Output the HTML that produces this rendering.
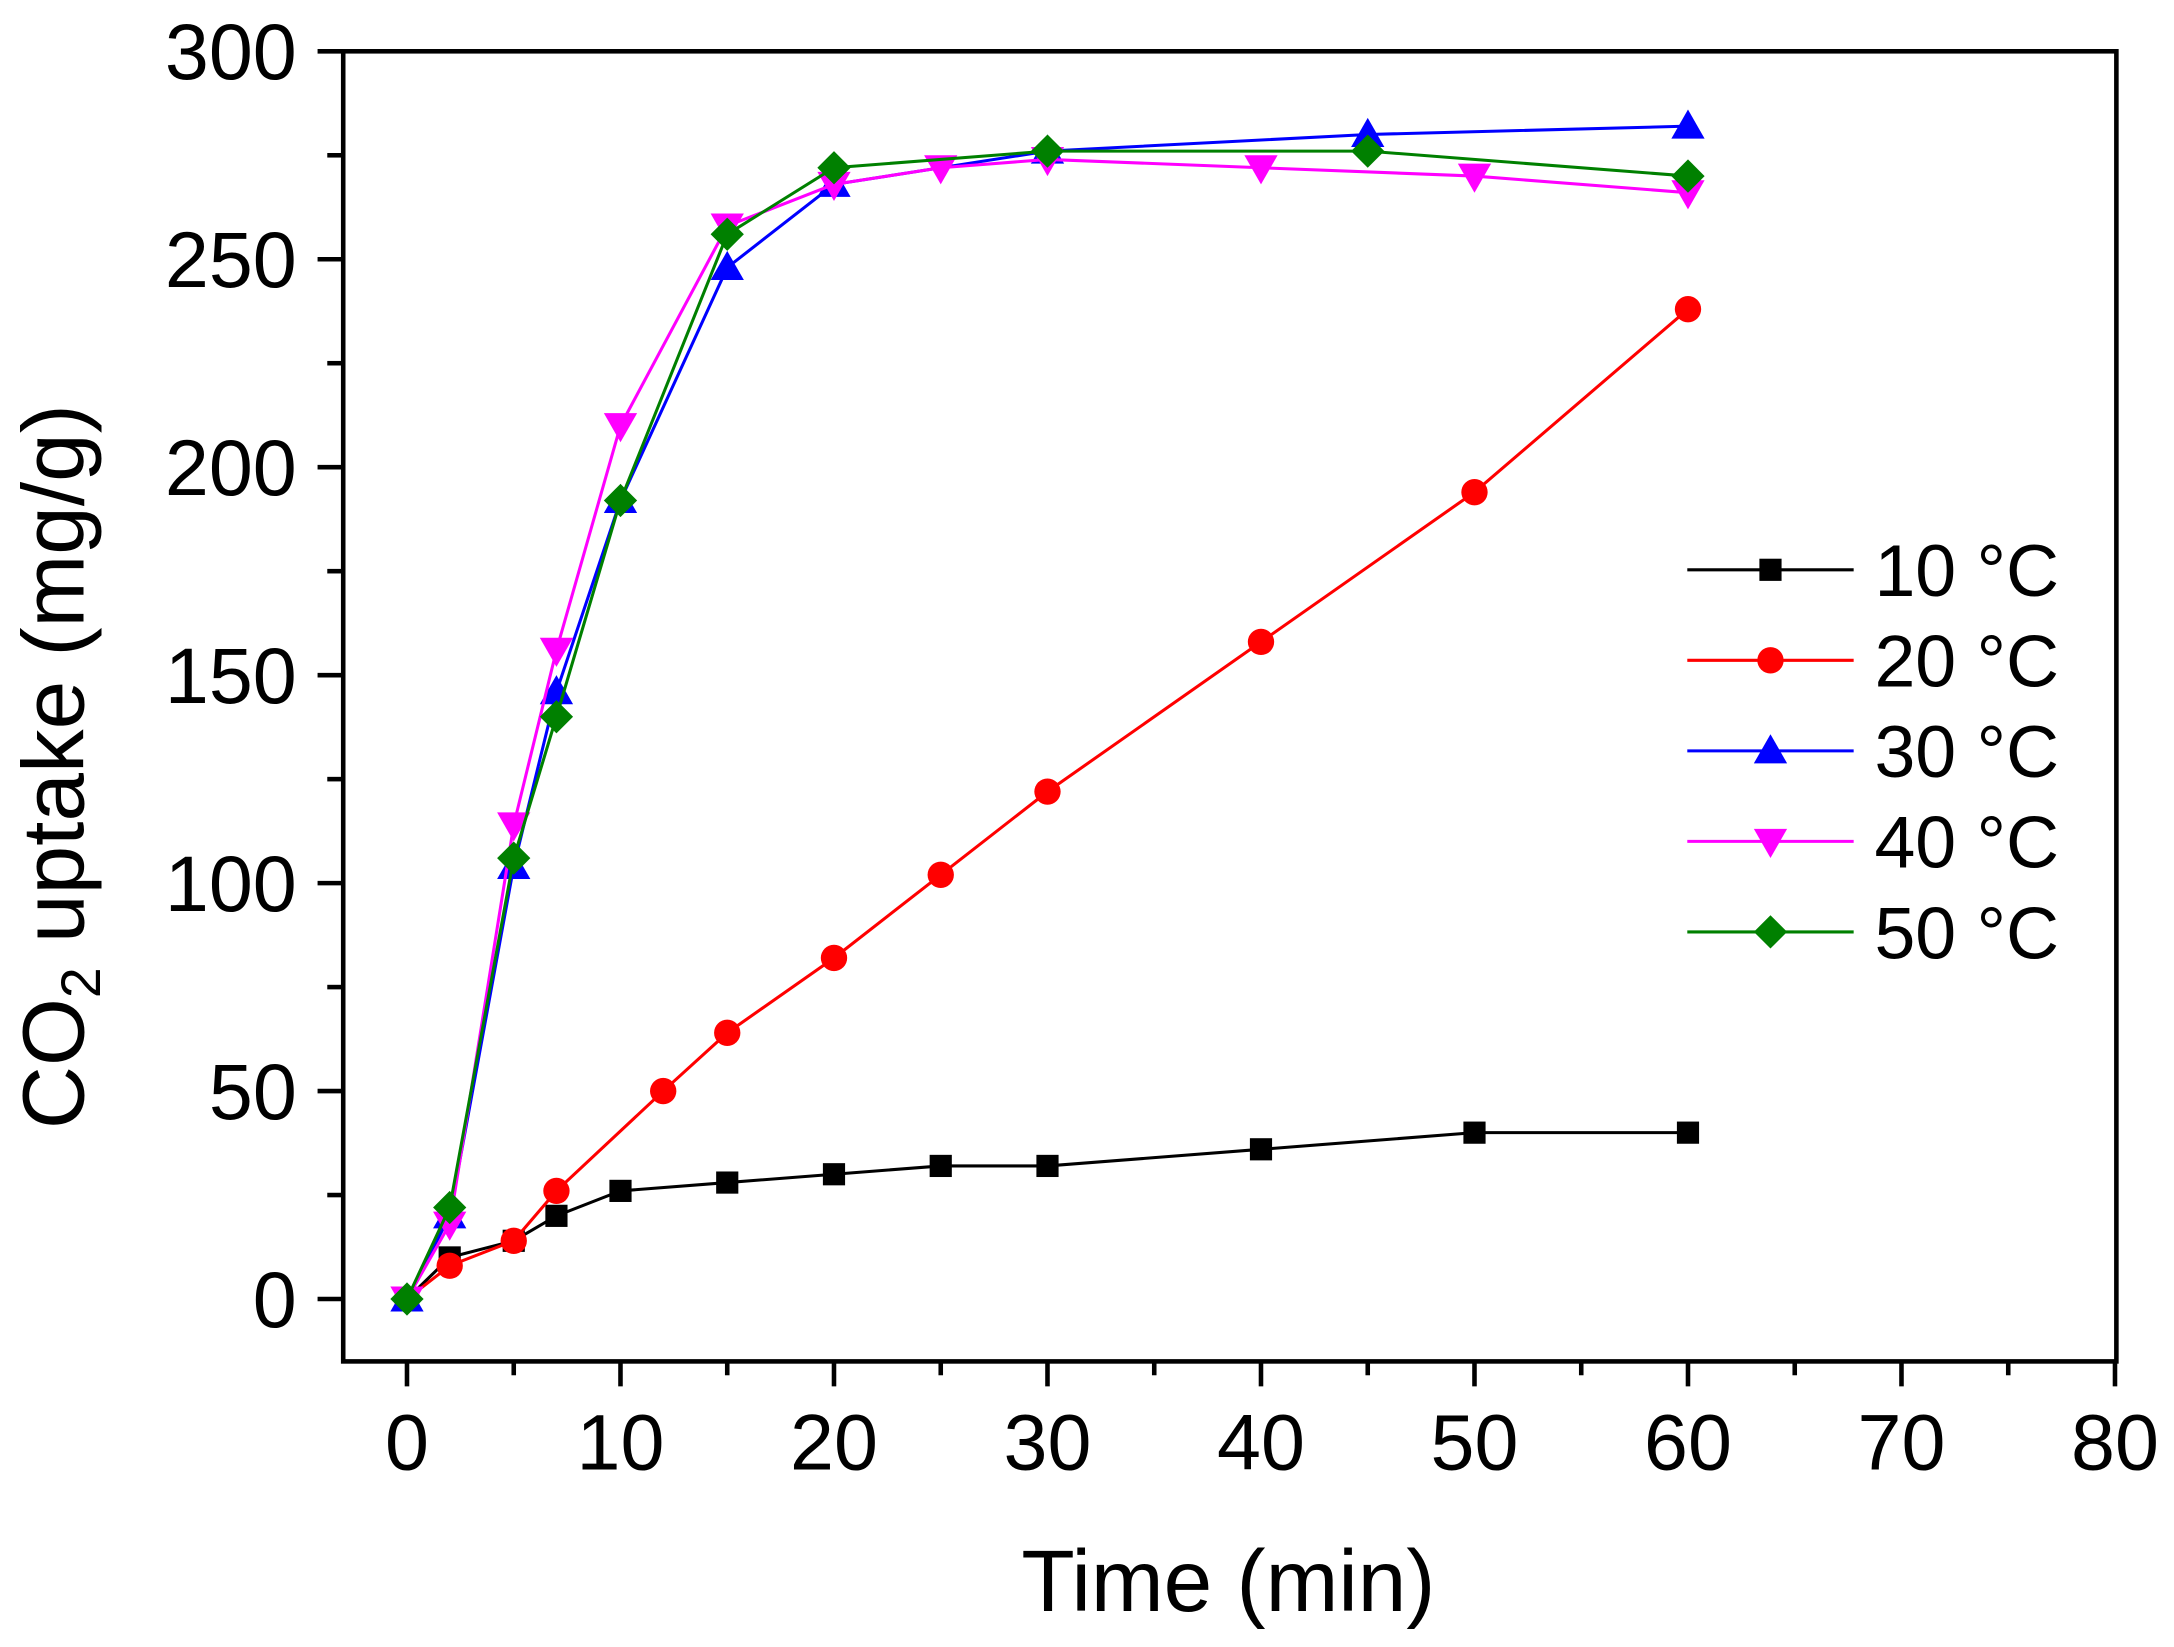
<!DOCTYPE html>
<html><head><meta charset="utf-8"><style>html,body{margin:0;padding:0;background:#fff}svg{display:block}text{font-family:"Liberation Sans",Arial,sans-serif;fill:#000}</style></head>
<body>
<svg width="2174" height="1647" viewBox="0 0 1568 1188" xmlns="http://www.w3.org/2000/svg">
<defs>
<g id="sq"><rect x="-8" y="-8" width="16" height="16"/></g>
<g id="ci"><circle r="9.5"/></g>
<g id="tu"><polygon points="0,-12 12,9 -12,9"/></g>
<g id="td"><polygon points="0,12 12,-9 -12,-9"/></g>
<g id="di"><polygon points="0,-12 12,0 0,12 -12,0"/></g>
</defs>
<g id="plot"></g>
<rect x="247.5" y="37" width="1279" height="945" fill="none" stroke="#000" stroke-width="3.3"/>
<g stroke="#000" stroke-width="3.3" id="ticks"></g>
<g font-size="57" text-anchor="end" id="ylab"></g>
<g font-size="57" text-anchor="middle" id="xlab"></g>
<text x="886" y="1162" font-size="63" text-anchor="middle">Time (min)</text>
<text transform="translate(60,553) rotate(-90)" font-size="63" text-anchor="middle">CO<tspan font-size="40" dy="12">2</tspan><tspan dy="-12"> uptake (mg/g)</tspan></text>
<g id="legend" font-size="53"></g>
</svg>
<script>
const ns="http://www.w3.org/2000/svg";
const X=v=>293.5+v*15.4, Y=v=>937-v*3;
function el(t,a,p){const e=document.createElementNS(ns,t);for(const k in a)e.setAttribute(k,a[k]);p.appendChild(e);return e;}
const S=[
["#000","sq",[[0,0],[2,10],[5,14],[7,20],[10,26],[15,28],[20,30],[25,32],[30,32],[40,36],[50,40],[60,40]],"10 °C"],
["#ff0000","ci",[[0,0],[2,8],[5,14],[7,26],[12,50],[15,64],[20,82],[25,102],[30,122],[40,158],[50,194],[60,238]],"20 °C"],
["#0000ff","tu",[[0,0],[2,20],[5,104],[7,146],[10,192],[15,248],[20,268],[30,276],[45,280],[60,282]],"30 °C"],
["#ff00ff","td",[[0,0],[2,18],[5,114],[7,156],[10,210],[15,258],[20,268],[25,272],[30,274],[40,272],[50,270],[60,266]],"40 °C"],
["#008000","di",[[0,0],[2,22],[5,106],[7,140],[10,192],[15,256],[20,272],[30,276],[45,276],[60,270]],"50 °C"]];
const P=document.getElementById("plot"),L=document.getElementById("legend");
S.forEach((s,i)=>{
 el("polyline",{points:s[2].map(p=>X(p[0])+","+Y(p[1])).join(" "),fill:"none",stroke:s[0],"stroke-width":2.2},P);
 s[2].forEach(p=>el("use",{href:"#"+s[1],x:X(p[0]),y:Y(p[1]),fill:s[0]},P));
 const y=411+i*65.3;
 el("line",{x1:1217,x2:1337,y1:y,y2:y,stroke:s[0],"stroke-width":2.2},L);
 el("use",{href:"#"+s[1],x:1277,y:y,fill:s[0]},L);
 const t=el("text",{x:1352,y:y+19},L);t.textContent=s[3];
});
const T=document.getElementById("ticks"),YL=document.getElementById("ylab"),XL=document.getElementById("xlab");
for(let v=0;v<=300;v+=25){const y=Y(v),maj=v%50==0;el("line",{x1:247,x2:maj?229:236,y1:y,y2:y},T);
 if(maj){const t=el("text",{x:214,y:y+20},YL);t.textContent=v;}}
for(let v=0;v<=80;v+=5){const x=X(v),maj=v%10==0;el("line",{x1:x,x2:x,y1:982,y2:maj?1000:992},T);
 if(maj){const t=el("text",{x:x,y:1060},XL);t.textContent=v;}}
</script>
</body></html>
